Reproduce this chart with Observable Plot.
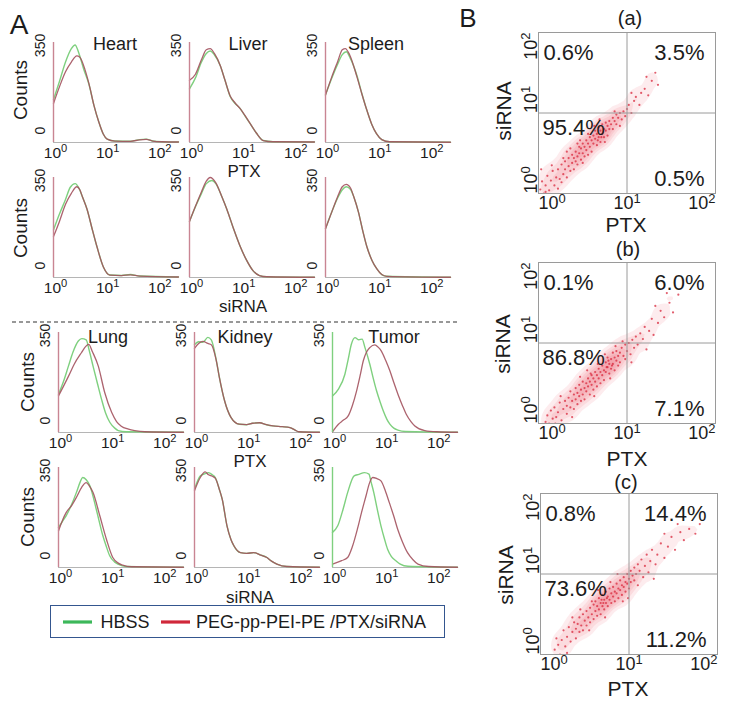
<!DOCTYPE html>
<html><head><meta charset="utf-8">
<script src="https://cdn.jsdelivr.net/npm/d3@7"></script>
<script src="https://cdn.jsdelivr.net/npm/@observablehq/plot@0.6"></script>
<style>
body{margin:0;background:#fff;}
#fig{position:relative;width:729px;height:705px;font-family:"Liberation Sans",Arial,Helvetica,sans-serif;color:#1c1c1c;overflow:hidden;background:#fff}
.abs{position:absolute;white-space:nowrap;line-height:1}
.pl{position:absolute}
</style></head><body><div id="fig"></div>
<script>
// ---------------- DATA ----------------
// Panel A histograms: [fluorescence intensity, counts]
const decadeTicks = [1, 10, 100];
const countTicks = [0, 350];

const heartPTX_hbss  = [[1,175],[1.3,250],[1.7,330],[2.2,385],[2.6,400],[3.0,372],[3.8,300],[4.8,238],[6,150],[7.4,84],[9,35],[10.7,14],[15,6],[30,5],[45,12],[60,14],[80,6],[120,3],[250,2]];
const heartPTX_treat = [[1,160],[1.3,228],[1.7,290],[2.2,330],[2.8,355],[3.2,350],[4,300],[4.8,240],[6,150],[7.4,84],[9,35],[10.7,14],[15,6],[30,5],[45,11],[60,13],[80,6],[120,3],[250,2]];
const liverPTX_hbss  = [[1,220],[1.3,265],[1.7,330],[2.1,365],[2.5,375],[3,360],[3.9,315],[4.8,255],[6,190],[7.5,160],[9.3,140],[11.5,110],[14.5,78],[19,40],[26,8],[40,3],[250,2]];
const liverPTX_treat = [[1,255],[1.3,280],[1.7,340],[2.1,380],[2.5,385],[3,365],[3.9,315],[4.8,255],[6,192],[7.5,162],[9.3,140],[11.5,112],[14.5,78],[19,40],[26,8],[40,3],[250,2]];
const spleenPTX_hbss  = [[1,195],[1.3,260],[1.7,320],[2.1,360],[2.5,372],[3.0,345],[4,275],[5,200],[6.2,133],[7.7,75],[9.5,36],[12,12],[17,3],[250,1]];
const spleenPTX_treat = [[1,195],[1.3,265],[1.7,330],[2.1,380],[2.4,385],[2.9,360],[4,270],[5,198],[6.2,133],[7.7,75],[9.5,36],[12,12],[17,3],[250,1]];

const heartSI_hbss  = [[1,195],[1.3,260],[1.7,320],[2.1,370],[2.6,385],[3.1,365],[3.6,330],[4.4,280],[5.5,200],[6.8,127],[9.1,42],[12,10],[20,8],[30,12],[45,6],[250,2]];
const heartSI_treat = [[1,168],[1.3,230],[1.7,300],[2.2,345],[2.8,372],[3.2,360],[3.6,330],[4.4,280],[5.5,200],[6.8,127],[9.1,42],[12,10],[20,8],[30,11],[45,6],[250,2]];
const liverSI_hbss  = [[1,230],[1.3,290],[1.7,345],[2.1,385],[2.7,398],[3.2,385],[4.2,330],[5.2,280],[7,200],[9.4,127],[12.5,70],[16.5,28],[22,8],[30,3],[250,1]];
const liverSI_treat = [[1,230],[1.3,292],[1.7,352],[2.1,395],[2.5,410],[3.2,388],[4.2,330],[5.2,280],[7,200],[9.4,127],[12.5,70],[16.5,28],[22,8],[30,3],[250,1]];
const spleenSI_hbss  = [[1,200],[1.3,265],[1.7,325],[2.1,360],[2.5,372],[3.0,362],[3.5,330],[4.3,267],[5.2,190],[6.2,127],[7.8,70],[9.6,36],[12,12],[15,5],[250,1]];
const spleenSI_treat = [[1,200],[1.3,265],[1.7,330],[2.1,372],[2.5,382],[3.0,368],[3.5,330],[4.3,267],[5.2,190],[6.2,127],[7.8,70],[9.6,36],[12,12],[15,5],[250,1]];

const lungPTX_hbss  = [[1,156],[1.25,210],[1.55,272],[1.9,330],[2.4,375],[2.8,385],[3.4,380],[3.9,335],[4.6,272],[5.6,200],[6.7,136],[8,80],[9.7,41],[12,18],[14,8],[20,3],[250,1]];
const lungPTX_treat = [[1,150],[1.25,190],[1.55,230],[2.0,280],[2.77,328],[3.3,352],[3.8,361],[4.5,330],[5.8,272],[7.7,164],[10.5,82],[13,45],[16,26],[22,14],[29,8],[45,3],[250,1]];
const kidneyPTX_hbss  = [[1,360],[1.2,372],[1.45,370],[1.8,390],[2.1,380],[2.6,300],[3.0,226],[3.8,128],[5,62],[7.2,34],[10,32],[13,38],[17.7,40],[24,32],[32,27],[48,24],[68,20],[85,10],[100,3],[250,1]];
const kidneyPTX_treat = [[1,345],[1.2,365],[1.45,374],[1.8,365],[2.1,360],[2.6,298],[3.0,226],[3.8,128],[5,62],[7.2,34],[10,32],[13,38],[17.7,40],[24,32],[32,27],[48,24],[68,20],[85,10],[100,3],[250,1]];
const tumorPTX_hbss  = [[1,150],[1.3,178],[1.73,239],[2.0,300],[2.3,362],[2.7,389],[3.2,380],[3.7,383],[4.2,348],[5.2,280],[6.0,225],[7.0,171],[8.2,125],[9.4,89],[11,55],[12.6,34],[15,18],[18,10],[25,4],[250,1]];
const tumorPTX_treat = [[1,3],[1.3,34],[1.6,50],[2.0,68],[2.4,110],[2.9,171],[3.4,235],[3.9,294],[4.5,330],[5.2,348],[6.5,359],[7.5,350],[8.6,335],[10.5,295],[12.6,253],[15,205],[18,157],[22,110],[26,75],[32,45],[38,27],[59,8],[100,3],[250,1]];

const lungSI_hbss  = [[1,164],[1.2,190],[1.4,212],[1.8,260],[2.2,307],[2.6,350],[2.9,369],[3.4,360],[4.0,335],[5.3,239],[7.1,130],[8.3,85],[9.6,48],[12,22],[13.8,14],[20,4],[250,1]];
const lungSI_treat = [[1,150],[1.2,195],[1.4,225],[1.8,255],[2.2,287],[2.8,330],[3.4,348],[3.9,335],[4.6,307],[6.2,212],[8.3,116],[11,41],[14,18],[17,10],[25,3],[250,1]];
const kidneySI_hbss  = [[1,321],[1.3,376],[1.6,385],[1.86,389],[2.2,380],[2.5,369],[3.0,320],[3.4,280],[4.2,171],[5,115],[5.7,89],[7.6,61],[10,58],[13.8,61],[18,52],[24.5,41],[30,26],[38,14],[59,4],[250,1]];
const kidneySI_treat = [[1,315],[1.3,370],[1.6,392],[1.86,380],[2.2,374],[2.5,366],[3.0,320],[3.4,280],[4.2,171],[5,115],[5.7,89],[7.6,61],[10,58],[13.8,61],[18,52],[24.5,41],[30,26],[38,14],[59,4],[250,1]];
const tumorSI_hbss  = [[1,144],[1.26,171],[1.6,240],[1.95,307],[2.6,376],[3.2,382],[4.1,389],[5.0,383],[5.5,350],[6.2,307],[7.2,240],[8.5,171],[10,115],[11.4,75],[13.5,45],[16.6,27],[20,14],[28,5],[250,1]];
const tumorSI_treat = [[1,14],[1.5,28],[1.95,41],[2.4,85],[3.0,157],[3.6,225],[4.4,294],[5.1,345],[5.9,369],[7,365],[8.5,355],[10.3,315],[12.3,266],[15,210],[17.8,157],[22,105],[27.5,61],[35,32],[43.6,14],[70,4],[250,1]];

const organTitles = ["Heart","Liver","Spleen","Lung","Kidney","Tumor"];
const legendLabels = ["HBSS","PEG-pp-PEI-PE /PTX/siRNA"];

// Panel B scatter: [log10 PTX, log10 siRNA] per event (decades)
const gateLevel = [10];
const scatterTitles = ["(a)","(b)","(c)"];
const quadA = ["0.6%","3.5%","95.4%","0.5%"];   // UL, UR, LL, LR
const quadB = ["0.1%","6.0%","86.8%","7.1%"];
const quadC = ["0.8%","14.4%","73.6%","11.2%"];

const scatterA = [[0.02,0.05],[0.04,0.15],[0.06,0.0],[0.08,0.10],[0.10,0.22],[0.12,0.04],[0.14,0.16],[0.16,0.28],[0.18,0.10],[0.20,0.20],[0.03,0.30],[0.08,0.02],[0.15,0.35],[0.22,0.06],
[0.22,0.30],[0.24,0.18],[0.26,0.36],[0.28,0.24],[0.30,0.40],[0.30,0.30],[0.32,0.20],[0.34,0.44],[0.34,0.34],[0.36,0.28],[0.38,0.48],[0.38,0.38],[0.40,0.30],[0.40,0.44],[0.26,0.14],[0.32,0.52],[0.36,0.56],[0.28,0.44],
[0.42,0.40],[0.42,0.52],[0.44,0.46],[0.44,0.36],[0.46,0.58],[0.46,0.50],[0.48,0.42],[0.48,0.56],[0.50,0.62],[0.50,0.50],[0.52,0.46],[0.52,0.58],[0.54,0.66],[0.54,0.54],[0.56,0.48],[0.56,0.62],[0.58,0.70],[0.58,0.58],[0.60,0.52],[0.60,0.66],[0.44,0.62],[0.50,0.38],[0.56,0.74],[0.47,0.66],
[0.62,0.72],[0.62,0.62],[0.64,0.78],[0.64,0.68],[0.66,0.60],[0.66,0.74],[0.68,0.82],[0.68,0.70],[0.70,0.78],[0.70,0.64],[0.72,0.86],[0.72,0.74],[0.74,0.80],[0.74,0.70],[0.76,0.88],[0.76,0.78],[0.78,0.84],[0.78,0.72],[0.80,0.90],[0.80,0.80],[0.63,0.84],[0.69,0.92],[0.75,0.64],[0.67,0.66],[0.71,0.70],[0.73,0.76],
[0.82,0.86],[0.84,0.94],[0.84,0.80],[0.86,0.90],[0.88,0.98],[0.88,0.86],[0.90,0.94],[0.92,1.00],[0.94,0.92],[0.96,1.02],[0.98,0.96],[0.86,1.02],[0.92,0.84],
[1.00,1.05],[1.02,1.10],[1.05,1.00],[1.08,1.15],[1.10,1.20],[1.14,1.10],[1.16,1.25],[1.20,1.30],[1.24,1.22],[1.28,1.40],[1.32,1.50],[1.35,1.35],[1.05,1.25],[1.22,1.45]];

const scatterB = [[0.08,0.02],[0.10,0.10],[0.12,0.0],[0.14,0.16],[0.16,0.06],[0.18,0.20],[0.20,0.08],[0.22,0.14],[0.24,0.26],[0.26,0.04],[0.28,0.18],[0.30,0.28],[0.25,0.34],[0.19,0.0],
[0.32,0.12],[0.32,0.22],[0.34,0.32],[0.36,0.20],[0.36,0.40],[0.38,0.28],[0.40,0.18],[0.40,0.36],[0.42,0.44],[0.42,0.30],[0.44,0.24],[0.44,0.38],[0.46,0.48],[0.46,0.34],[0.48,0.28],[0.48,0.42],[0.50,0.36],[0.50,0.52],[0.38,0.08],[0.47,0.58],
[0.52,0.44],[0.52,0.30],[0.54,0.50],[0.54,0.40],[0.56,0.56],[0.56,0.46],[0.58,0.36],[0.58,0.52],[0.60,0.60],[0.60,0.48],[0.62,0.42],[0.62,0.56],[0.64,0.64],[0.64,0.52],[0.66,0.46],[0.66,0.60],[0.68,0.68],[0.68,0.56],[0.70,0.50],[0.70,0.64],[0.55,0.66],[0.63,0.34],[0.67,0.74],[0.59,0.62],
[0.72,0.72],[0.72,0.60],[0.74,0.66],[0.74,0.54],[0.76,0.76],[0.76,0.64],[0.78,0.70],[0.78,0.82],[0.80,0.62],[0.80,0.74],[0.82,0.80],[0.82,0.68],[0.84,0.88],[0.84,0.74],[0.86,0.66],[0.86,0.82],[0.88,0.78],[0.88,0.90],[0.90,0.72],[0.90,0.84],[0.75,0.86],[0.81,0.56],[0.87,0.96],[0.79,0.78],[0.83,0.72],[0.77,0.70],
[0.92,0.88],[0.92,0.76],[0.94,0.94],[0.96,0.84],[0.98,0.98],[0.98,0.80],[1.00,0.90],[1.02,1.00],[1.04,0.86],[1.06,1.04],[1.08,0.94],[1.10,1.08],[1.05,0.76],[0.95,1.02],
[1.12,0.98],[1.15,1.12],[1.18,1.05],[1.20,1.20],[1.22,0.92],[1.25,1.15],[1.28,1.30],[1.30,1.10],[1.35,1.25],[1.38,1.40],[1.42,1.32],[1.48,1.50],[1.52,1.38],[1.58,1.60],[1.45,1.62],[1.32,1.46]];

const scatterC = [[0.16,0.06],[0.18,0.20],[0.20,0.12],[0.22,0.0],[0.24,0.18],[0.26,0.30],[0.28,0.10],[0.30,0.22],[0.32,0.34],[0.34,0.16],[0.36,0.28],[0.38,0.40],[0.40,0.20],[0.40,0.32],[0.30,0.02],[0.36,0.46],
[0.42,0.38],[0.44,0.28],[0.44,0.46],[0.46,0.36],[0.48,0.50],[0.48,0.30],[0.50,0.42],[0.52,0.54],[0.52,0.36],[0.54,0.46],[0.56,0.58],[0.56,0.40],[0.58,0.50],[0.60,0.62],[0.60,0.44],[0.45,0.56],[0.55,0.30],[0.58,0.66],
[0.62,0.54],[0.62,0.66],[0.64,0.48],[0.64,0.60],[0.66,0.70],[0.66,0.56],[0.68,0.64],[0.68,0.50],[0.70,0.74],[0.70,0.60],[0.72,0.68],[0.72,0.56],[0.74,0.78],[0.74,0.64],[0.76,0.72],[0.76,0.60],[0.78,0.82],[0.78,0.68],[0.80,0.76],[0.80,0.64],[0.65,0.80],[0.73,0.46],[0.79,0.90],[0.69,0.68],[0.75,0.70],[0.71,0.64],
[0.82,0.72],[0.82,0.84],[0.84,0.78],[0.84,0.66],[0.86,0.88],[0.86,0.76],[0.88,0.82],[0.88,0.70],[0.90,0.92],[0.90,0.80],[0.92,0.86],[0.92,0.74],[0.94,0.96],[0.94,0.84],[0.96,0.90],[0.96,0.78],[0.98,1.00],[0.98,0.88],[1.00,0.94],[1.00,0.82],[1.02,1.04],[1.02,0.90],[1.04,0.98],[0.87,1.00],[0.93,0.66],[0.99,0.70],
[1.06,1.08],[1.06,0.92],[1.08,1.00],[1.10,1.12],[1.10,0.86],[1.12,1.04],[1.14,1.18],[1.16,0.96],[1.18,1.10],[1.20,1.24],[1.22,1.02],[1.24,1.16],[1.26,1.30],[1.30,1.12],[1.32,1.24],[1.36,1.38],[1.40,1.20],[1.44,1.34],[1.48,1.46],[1.52,1.30],[1.58,1.52],[1.62,1.42],[1.68,1.56],[1.75,1.50],[1.80,1.62],[1.40,1.50],[1.28,0.94],[1.55,1.62]];

// ---------------- RENDER ----------------
const FONT = '"Liberation Sans", Arial, Helvetica, sans-serif';
const fig = document.getElementById("fig");
const NS = "http://www.w3.org/2000/svg";
const GREEN = "#7fd07f", RED = "#a3525e", AXPINK = "#c98593";
const expFmt = d => "10^" + Math.round(Math.log10(d));

function superscripts(svg){
  svg.querySelectorAll("text").forEach(t => {
    const m = /^10\^(-?\d)$/.exec(t.textContent);
    if (!m) return;
    t.textContent = "";
    const a = document.createElementNS(NS, "tspan"); a.textContent = "10";
    const b = document.createElementNS(NS, "tspan"); b.textContent = m[1];
    b.setAttribute("dy", "-0.5em"); b.setAttribute("font-size", "0.72em");
    t.append(a, b);
  });
}
function place(svg, left, top){
  svg.classList.add("pl"); svg.style.left = left + "px"; svg.style.top = top + "px";
  superscripts(svg); fig.append(svg);
}
function label(s, cx, cy, size, rot, extra){
  const d = document.createElement("div");
  d.className = "abs"; d.textContent = s;
  d.style.left = cx + "px"; d.style.top = cy + "px"; d.style.fontSize = size + "px";
  d.style.transform = "translate(-50%,-50%)" + (rot ? ` rotate(${rot}deg)` : "");
  if (extra) Object.assign(d.style, extra);
  fig.append(d);
}

function hist(hbss, treat, axisX, top, axisColor){
  const mL = 32, mR = 4, mT = 2, mB = 24, W = 125, H = 100;
  const svg = Plot.plot({
    width: W + mL + mR, height: H + mT + mB,
    marginLeft: mL, marginRight: mR, marginTop: mT, marginBottom: mB,
    x: {type: "log", domain: [1, 250], axis: null},
    y: {domain: [0, 410], axis: null},
    style: {fontFamily: FONT, color: "#1c1c1c", background: "transparent", overflow: "visible"},
    marks: [
      Plot.ruleY([0], {stroke: "#b5b5b5", strokeWidth: 1}),
      Plot.line(hbss, {x: d => d[0], y: d => d[1], stroke: GREEN, strokeWidth: 1.4, curve: "monotone-x"}),
      Plot.line(treat, {x: d => d[0], y: d => d[1], stroke: RED, strokeWidth: 1.3, strokeOpacity: 0.9, curve: "monotone-x"}),
      Plot.ruleX([1], {stroke: axisColor, strokeWidth: 1.4}),
      Plot.text(decadeTicks, {x: d => d, text: expFmt, frameAnchor: "bottom", lineAnchor: "top", dx: 2, dy: 4, fontSize: 15.5}),
      Plot.text(countTicks.filter(d => d > 0), {y: d => d, text: d => String(d), frameAnchor: "left", rotate: -90, dx: -13, fontSize: 14}),
      Plot.text(countTicks.filter(d => d === 0), {y: d => d, text: d => String(d), frameAnchor: "left", rotate: -90, dx: -13, dy: -8, fontSize: 14})
    ]
  });
  place(svg, axisX - mL, top - mT);
}

// Row layout
const colsTop = [53, 189, 325], colsBot = [58, 194, 332];
const rowTops = [42, 177, 332, 467];
hist(heartPTX_hbss, heartPTX_treat, colsTop[0], rowTops[0], AXPINK);
hist(liverPTX_hbss, liverPTX_treat, colsTop[1], rowTops[0], AXPINK);
hist(spleenPTX_hbss, spleenPTX_treat, colsTop[2], rowTops[0], AXPINK);
hist(heartSI_hbss, heartSI_treat, colsTop[0], rowTops[1], AXPINK);
hist(liverSI_hbss, liverSI_treat, colsTop[1], rowTops[1], AXPINK);
hist(spleenSI_hbss, spleenSI_treat, colsTop[2], rowTops[1], AXPINK);
hist(lungPTX_hbss, lungPTX_treat, colsBot[0], rowTops[2], AXPINK);
hist(kidneyPTX_hbss, kidneyPTX_treat, colsBot[1], rowTops[2], AXPINK);
hist(tumorPTX_hbss, tumorPTX_treat, colsBot[2], rowTops[2], GREEN);
hist(lungSI_hbss, lungSI_treat, colsBot[0], rowTops[3], AXPINK);
hist(kidneySI_hbss, kidneySI_treat, colsBot[1], rowTops[3], AXPINK);
hist(tumorSI_hbss, tumorSI_treat, colsBot[2], rowTops[3], GREEN);

// Panel A texts
label("A", 19, 25, 28);
label(organTitles[0], 115, 44, 18);
label(organTitles[1], 248, 44, 18);
label(organTitles[2], 376, 44, 18);
label(organTitles[3], 108, 337, 18);
label(organTitles[4], 245, 337, 18);
label(organTitles[5], 394, 337, 18);
[[20, 90], [20, 228], [27, 382], [27, 517]].forEach(([x, y]) => label("Counts", x, y, 19, -90));
label("PTX", 244, 171, 17);
label("siRNA", 243, 306, 17);
label("PTX", 250, 461, 17);
label("siRNA", 250, 597, 17);

// dashed separator
const sep = document.createElementNS(NS, "svg");
sep.setAttribute("width", 729); sep.setAttribute("height", 4);
sep.style.position = "absolute"; sep.style.left = "0px"; sep.style.top = "320px";
sep.innerHTML = '<line x1="12" x2="457" y1="2" y2="2" stroke="#333" stroke-width="1.2" stroke-dasharray="4 3"/>';
fig.append(sep);

// legend
const leg = document.createElement("div");
Object.assign(leg.style, {position: "absolute", left: "50px", top: "605px", width: "393px", height: "31px", border: "1.6px solid #34568f", boxSizing: "content-box"});
fig.append(leg);
const legSvg = document.createElementNS(NS, "svg");
legSvg.setAttribute("width", 729); legSvg.setAttribute("height", 40);
legSvg.style.position = "absolute"; legSvg.style.left = "0px"; legSvg.style.top = "602px";
legSvg.innerHTML = '<line x1="63" x2="92" y1="20" y2="20" stroke="#3cb85a" stroke-width="3.2"/><line x1="161" x2="190" y1="20" y2="20" stroke="#d0283a" stroke-width="3.2"/>';
fig.append(legSvg);
label(legendLabels[0], 125, 622, 18);
label(legendLabels[1], 311, 622, 18);

// Panel B
function scatter(pts, quad, left, top){
  const mL = 44, mR = 6, mT = 2, mB = 30, W = 177, H = 161;
  const fs = 18;
  const X = d => 10 ** d[0], Y = d => 10 ** d[1];
  const svg = Plot.plot({
    width: W + mL + mR, height: H + mT + mB,
    marginLeft: mL, marginRight: mR, marginTop: mT, marginBottom: mB,
    x: {type: "log", domain: [1, 100], axis: null},
    y: {type: "log", domain: [1, 100], axis: null},
    style: {fontFamily: FONT, color: "#1c1c1c", background: "transparent", overflow: "visible"},
    marks: [
      Plot.density(pts, {x: X, y: Y, bandwidth: 4.5, thresholds: 7, fill: "#e8445a", fillOpacity: 0.1, stroke: "none", clip: true}),
      Plot.dot(pts, {x: X, y: Y, r: 1.1, fill: "#d8283c", fillOpacity: 0.75, clip: true}),
      Plot.ruleX(gateLevel, {stroke: "#9a9a9a", strokeWidth: 1}),
      Plot.ruleY(gateLevel, {stroke: "#9a9a9a", strokeWidth: 1}),
      Plot.frame({stroke: "#9a9a9a", strokeWidth: 1}),
      Plot.text(decadeTicks.slice(0, 1), {x: d => d, text: expFmt, frameAnchor: "bottom", lineAnchor: "top", textAnchor: "start", dy: 3, fontSize: fs}),
      Plot.text(decadeTicks.slice(1, 2), {x: d => d, text: expFmt, frameAnchor: "bottom", lineAnchor: "top", dy: 3, fontSize: fs}),
      Plot.text(decadeTicks.slice(2), {x: d => d, text: expFmt, frameAnchor: "bottom", lineAnchor: "top", textAnchor: "end", dy: 3, fontSize: fs}),
      Plot.text(decadeTicks.slice(0, 1), {y: d => d, text: expFmt, frameAnchor: "left", rotate: -90, lineAnchor: "bottom", textAnchor: "start", dx: -2, fontSize: fs}),
      Plot.text(decadeTicks.slice(1, 2), {y: d => d, text: expFmt, frameAnchor: "left", rotate: -90, lineAnchor: "bottom", dx: -2, fontSize: fs}),
      Plot.text(decadeTicks.slice(2), {y: d => d, text: expFmt, frameAnchor: "left", rotate: -90, lineAnchor: "bottom", textAnchor: "end", dx: -2, fontSize: fs}),
      Plot.text([quad[0]], {frameAnchor: "top-left", text: d => d, dx: 5, dy: 20, lineAnchor: "middle", fontSize: 22}),
      Plot.text([quad[1]], {frameAnchor: "top-right", text: d => d, dx: -11, dy: 20, lineAnchor: "middle", fontSize: 22}),
      Plot.text([quad[2]], {frameAnchor: "left", y: gateLevel[0], text: d => d, dx: 4, dy: 15, lineAnchor: "middle", textAnchor: "start", fontSize: 22}),
      Plot.text([quad[3]], {frameAnchor: "bottom-right", text: d => d, dx: -11, dy: -15, lineAnchor: "middle", fontSize: 22})
    ]
  });
  place(svg, left - mL, top - mT);
}
scatter(scatterA, quadA, 538, 32);
scatter(scatterB, quadB, 538, 262);
scatter(scatterC, quadC, 540, 493);

label("B", 468, 18, 26);
label(scatterTitles[0], 630, 18, 20);
label(scatterTitles[1], 628, 249, 20);
label(scatterTitles[2], 626, 482, 20);
label("siRNA", 503, 111, 21, -90);
label("siRNA", 502, 344, 21, -90);
label("siRNA", 505, 575, 21, -90);
label("PTX", 626, 224, 21);
label("PTX", 627, 458, 21);
label("PTX", 628, 688, 21);
</script></body></html>
